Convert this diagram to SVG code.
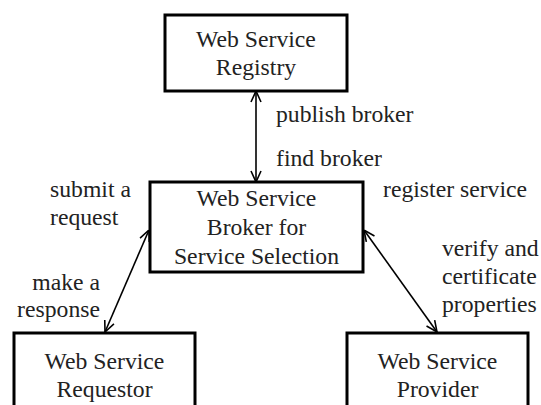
<svg xmlns="http://www.w3.org/2000/svg" width="541" height="405" viewBox="0 0 541 405">
<defs>
<style>
.box{fill:#fff;stroke:#000;stroke-width:3}
.t{font-family:'Liberation Serif','Times New Roman',Times,'DejaVu Serif',serif;font-size:23.7px;fill:#222}
.c{text-anchor:middle}
.e{text-anchor:end}
.conn{stroke:#000;stroke-width:1.6;fill:none;marker-start:url(#ah);marker-end:url(#ah)}
</style>
<marker id="ah" viewBox="0 0 12 12" refX="12" refY="6" markerWidth="12" markerHeight="12" markerUnits="userSpaceOnUse" orient="auto-start-reverse">
<path d="M1,1 L12,6 L1,11" fill="none" stroke="#000" stroke-width="1.6"/>
</marker>
</defs>
<rect width="541" height="405" fill="#fff"/>
<g id="connectors">
<line class="conn" x1="256" y1="91" x2="256" y2="182"/>
<line class="conn" x1="149" y1="230" x2="105" y2="332"/>
<line class="conn" x1="364" y1="230" x2="437" y2="332"/>
</g>
<g font-family="Liberation Serif, Times New Roman, serif">
<g id="registry">
<rect class="box" x="165" y="15" width="182" height="76"/>
<text class="t c" x="256" y="47">Web Service</text>
<text class="t c" x="256" y="75">Registry</text>
</g>
<g id="broker">
<rect class="box" x="150" y="182" width="213" height="90"/>
<text class="t c" x="256.5" y="206">Web Service</text>
<text class="t c" x="256.5" y="235">Broker for</text>
<text class="t c" x="256.5" y="264">Service Selection</text>
</g>
<g id="requestor">
<rect class="box" x="14" y="333" width="181" height="80"/>
<text class="t c" x="104.5" y="369">Web Service</text>
<text class="t c" x="104.5" y="397">Requestor</text>
</g>
<g id="provider">
<rect class="box" x="347" y="333" width="181" height="80"/>
<text class="t c" x="437.5" y="369">Web Service</text>
<text class="t c" x="437.5" y="397">Provider</text>
</g>
<g id="labels">
<text class="t" x="276" y="122">publish broker</text>
<text class="t" x="276" y="166">find broker</text>
<text class="t" x="50" y="197">submit a</text>
<text class="t" x="50" y="225">request</text>
<text class="t e" x="100" y="290">make a</text>
<text class="t e" x="100" y="317">response</text>
<text class="t" x="383" y="197">register service</text>
<text class="t" x="442" y="256">verify and</text>
<text class="t" x="442" y="284">certificate</text>
<text class="t" x="442" y="312">properties</text>
</g>
</g>
</svg>
